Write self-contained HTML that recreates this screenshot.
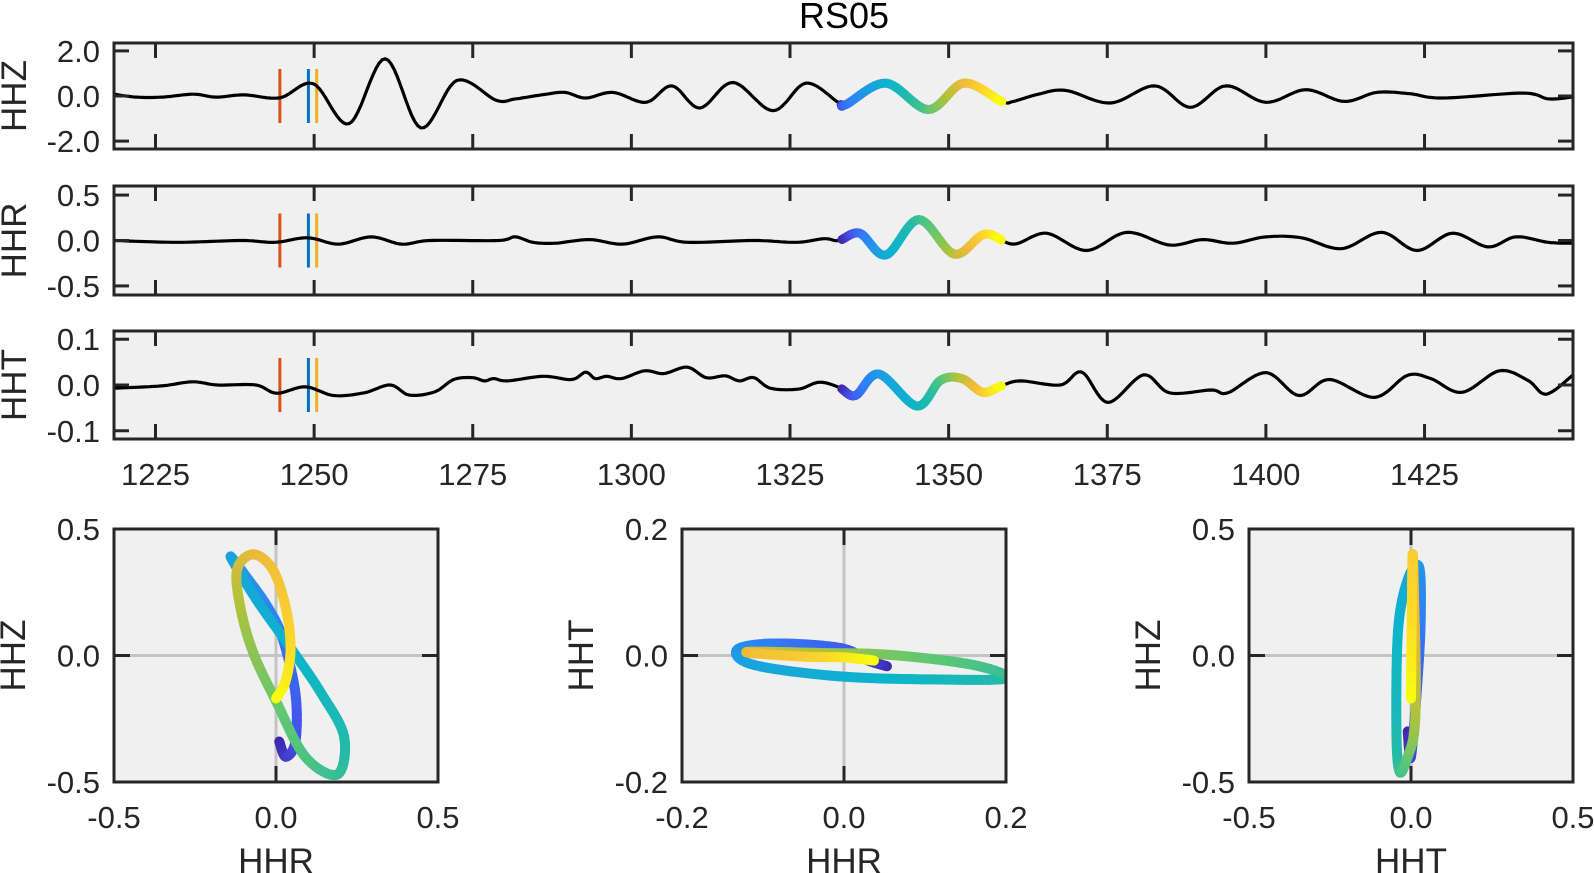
<!DOCTYPE html>
<html><head><meta charset="utf-8"><title>RS05</title>
<style>
html,body{margin:0;padding:0;background:#fff;}
svg{display:block;font-family:"Liberation Sans",Arial,sans-serif;}
</style></head>
<body>
<svg id="fig" width="1594" height="873" viewBox="0 0 1594 873" xmlns="http://www.w3.org/2000/svg">
<text x="844" y="28" font-size="36" text-anchor="middle" fill="#000">RS05</text>
</svg>
<script>
// ---------------- data ----------------
const hhzTime=[1218.46,1222,1226,1231,1234.5,1239,1244.6,1249.9,1255.5,1261.2,1266.8,1272.5,1278.7,1281.7,1286.1,1289.5,1292.8,1297.1,1302.3,1306.4,1310.8,1316.0,1322.3,1327.5,1332.6,1333.8,1340.1,1346.8,1352.4,1358.4,1360.2,1363.9,1368.4,1375.5,1382.5,1388.1,1393.7,1400.0,1406.3,1412.3,1417.5,1422.7,1427.9,1440.5,1444.6,1448.4];
const hhzAmp=[0.08,-0.05,-0.05,0.08,-0.05,0.05,-0.08,0.54,-1.23,1.65,-1.41,0.69,-0.19,-0.13,0.06,0.16,-0.09,0.16,-0.28,0.45,-0.53,0.6,-0.65,0.57,-0.28,-0.38,0.57,-0.6,0.57,-0.24,-0.24,0.06,0.25,-0.31,0.45,-0.5,0.45,-0.28,0.28,-0.24,0.16,0.1,-0.09,0.13,-0.13,-0.04];
const hhrTime=[1218.46,1228.5,1238.6,1243.8,1249.0,1253.8,1259.0,1263.8,1268.3,1279.0,1281.7,1284.5,1288.0,1293.4,1298.6,1304.1,1308.9,1319.3,1326.0,1330.4,1332.7,1336.0,1340.1,1345.3,1350.9,1355.7,1360.2,1365.4,1371.7,1378.1,1384.8,1390.0,1394.8,1400.0,1405.6,1411.9,1418.2,1423.8,1429.4,1435.0,1439.4,1444.5,1448.4];
const hhrAmp=[0.0,-0.02,0.0,-0.02,0.03,-0.04,0.04,-0.04,0.0,0.0,0.04,-0.02,-0.03,0.01,-0.04,0.04,-0.02,0.0,-0.02,0.02,0.0,0.08,-0.16,0.23,-0.15,0.07,-0.04,0.08,-0.11,0.09,-0.05,0.01,-0.03,0.04,0.03,-0.09,0.09,-0.11,0.08,-0.07,0.04,-0.02,-0.03];
const hhtTime=[1218.46,1225.9,1230.8,1234.8,1240.8,1244.1,1248.6,1253.1,1257.9,1262.0,1265.0,1269.0,1272.0,1275.0,1276.8,1278.3,1280.5,1286.1,1290.6,1292.8,1294.3,1296.1,1298.4,1302.1,1305.1,1308.8,1311.8,1314.8,1317.0,1319.3,1321.9,1326.3,1329.6,1332.7,1335.3,1339.0,1345.0,1348.7,1352.1,1355.4,1358.3,1361.3,1367.6,1371.0,1375.1,1380.7,1384.8,1391.4,1394.0,1400.0,1405.2,1410.0,1417.1,1422.3,1426.0,1430.9,1436.8,1441.3,1444.2,1448.4];
const hhtAmp=[-0.007,-0.002,0.007,0.0,0.0,-0.018,-0.004,-0.023,-0.017,0.0,-0.022,-0.015,0.012,0.016,0.009,0.014,0.009,0.019,0.012,0.028,0.014,0.019,0.014,0.031,0.025,0.039,0.016,0.02,0.009,0.016,-0.007,-0.009,0.006,-0.005,-0.023,0.024,-0.046,0.01,0.014,-0.016,-0.002,0.009,0.0,0.028,-0.038,0.022,-0.017,-0.011,-0.017,0.027,-0.023,0.012,-0.027,0.021,0.014,-0.016,0.031,0.01,-0.02,0.022];
const pickTimes=[1244.6,1249.1,1250.4];
const pickColors=["#d95319","#0072bd","#edb120"];
const windowStart=1333.0, windowEnd=1358.5;
const xTicks=[1225,1250,1275,1300,1325,1350,1375,1400,1425];
// particle motion (hodograms), in time order
const rzR=[0.01,0.03,0.06,0.06,0.02,-0.025,-0.085,-0.14,-0.06,0.045,0.14,0.21,0.19,0.09,0.0,-0.07,-0.11,-0.12,-0.07,-0.01,0.03,0.045,0.03,0.0];
const rzZ=[-0.34,-0.40,-0.34,-0.15,0.07,0.19,0.30,0.39,0.22,0.03,-0.15,-0.32,-0.47,-0.40,-0.18,0.01,0.19,0.34,0.40,0.34,0.19,0.03,-0.10,-0.17];
const rtR=[0.053,0.03,-0.005,-0.087,-0.132,-0.111,-0.005,0.119,0.2,0.16,0.057,-0.03,-0.107,-0.115,-0.046,0.0,0.037];
const rtT=[-0.017,-0.008,0.012,0.019,0.009,-0.015,-0.033,-0.038,-0.036,-0.015,0.001,0.004,0.006,0.004,-0.002,-0.003,-0.008];
const tzT=[-0.01,0.0,0.02,0.03,0.025,-0.01,-0.04,-0.045,-0.035,-0.01,0.01,0.015,0.01,0.005,0.002,0.0];
const tzZ=[-0.3,-0.4,-0.1,0.15,0.35,0.3,0.1,-0.3,-0.46,-0.4,-0.3,-0.1,0.2,0.4,0.1,-0.17];

// ---------------- helpers ----------------
const NS="http://www.w3.org/2000/svg";
const svg=document.getElementById('fig');
function mk(tag,attrs,parent){const e=document.createElementNS(NS,tag);for(const k in attrs)e.setAttribute(k,attrs[k]);(parent||svg).appendChild(e);return e;}
const parulaStops=[[0,"#3e26a8"],[0.1,"#4352ea"],[0.2,"#2f80f5"],[0.3,"#1ba0e0"],[0.4,"#0cb4cc"],[0.5,"#25bba5"],[0.6,"#5fc773"],[0.7,"#afc23c"],[0.8,"#edb93a"],[0.9,"#fcd22f"],[1,"#f9fb0e"]];
function hex(h){return [parseInt(h.substr(1,2),16),parseInt(h.substr(3,2),16),parseInt(h.substr(5,2),16)];}
function parula(f){f=Math.max(0,Math.min(1,f));for(let i=1;i<parulaStops.length;i++){if(f<=parulaStops[i][0]){const a=parulaStops[i-1],b=parulaStops[i];const u=(f-a[0])/(b[0]-a[0]);const ca=hex(a[1]),cb=hex(b[1]);return "rgb("+ca.map((c,j)=>Math.round(c+(cb[j]-c)*u)).join(",")+")";}}return parulaStops[parulaStops.length-1][1];}
function catmull(px,py,n){const out=[];const N=px.length;for(let i=0;i<N-1;i++){const x0=px[Math.max(0,i-1)],y0=py[Math.max(0,i-1)],x1=px[i],y1=py[i],x2=px[i+1],y2=py[i+1],x3=px[Math.min(N-1,i+2)],y3=py[Math.min(N-1,i+2)];for(let s=0;s<n;s++){const t=s/n,t2=t*t,t3=t2*t;out.push([0.5*((2*x1)+(-x0+x2)*t+(2*x0-5*x1+4*x2-x3)*t2+(-x0+3*x1-3*x2+x3)*t3),0.5*((2*y1)+(-y0+y2)*t+(2*y0-5*y1+4*y2-y3)*t2+(-y0+3*y1-3*y2+y3)*t3)]);}}out.push([px[N-1],py[N-1]]);return out;}

// ---------------- time-series panels ----------------
const L=114,R=1573,tMin=1218.46,tMax=1448.4;
function xs(t){return L+(t-tMin)/(tMax-tMin)*(R-L);}
const panels=[
 {name:"hhz",label:"HHZ",top:43,bot:149,lim:2.35,ticks:[2,0,-2],fmt:["2.0","0.0","-2.0"],time:hhzTime,amp:hhzAmp},
 {name:"hhr",label:"HHR",top:186,bot:295,lim:0.6,ticks:[0.5,0,-0.5],fmt:["0.5","0.0","-0.5"],time:hhrTime,amp:hhrAmp},
 {name:"hht",label:"HHT",top:331,bot:439,lim:0.118,ticks:[0.1,0,-0.1],fmt:["0.1","0.0","-0.1"],time:hhtTime,amp:hhtAmp}
];
panels.forEach((p,pi)=>{
  const g=mk('g',{});
  
  
  const ys=v=>(p.top+p.bot)/2-v/p.lim*(p.bot-p.top)/2;
  const bg=mk('rect',{x:L,y:p.top,width:R-L,height:p.bot-p.top,fill:"#f0f0f0"},g);
  
  
  const cp=mk('clipPath',{id:'clip'+pi},g);
  mk('rect',{x:L,y:p.top,width:R-L,height:p.bot-p.top},cp);
  pickTimes.forEach((t,i)=>{
    const ln=mk('line',{x1:xs(t),x2:xs(t),y1:ys(0)-27,y2:ys(0)+27,stroke:pickColors[i],'stroke-width':3},g);
    
    
  });
  const px=p.time.map(xs),py=p.amp.map(ys);
  const pts=catmull(px,py,12);
  const path=mk('path',{d:'M'+pts.map(q=>q[0].toFixed(1)+','+q[1].toFixed(1)).join('L'),fill:'none',stroke:'#000','stroke-width':3.2,'stroke-linejoin':'round','clip-path':'url(#clip'+pi+')'},g);
  
  
  const wg=mk('g',{},g);
  
  
  const x0=xs(windowStart),x1=xs(windowEnd);
  const win=pts.filter(q=>q[0]>=x0&&q[0]<=x1);
  for(let i=0;i<win.length-1;i++){
    mk('line',{x1:win[i][0],y1:win[i][1],x2:win[i+1][0],y2:win[i+1][1],stroke:parula(i/(win.length-2)),'stroke-width':9,'stroke-linecap':'round'},wg);
  }
  const fr=mk('rect',{x:L,y:p.top,width:R-L,height:p.bot-p.top,fill:'none',stroke:'#262626','stroke-width':3},g);
  
  
  xTicks.forEach(t=>{
    mk('line',{x1:xs(t),x2:xs(t),y1:p.top,y2:p.top+15,stroke:'#262626','stroke-width':3},g);
    mk('line',{x1:xs(t),x2:xs(t),y1:p.bot,y2:p.bot-15,stroke:'#262626','stroke-width':3},g);
  });
  p.ticks.forEach((v,i)=>{
    mk('line',{x1:L,x2:L+15,y1:ys(v),y2:ys(v),stroke:'#262626','stroke-width':3},g);
    mk('line',{x1:R,x2:R-15,y1:ys(v),y2:ys(v),stroke:'#262626','stroke-width':3},g);
    const tl=mk('text',{x:100,y:ys(v)+11,'font-size':31,'text-anchor':'end',fill:'#262626'},g);
    tl.textContent=p.fmt[i];
    
    
  });
  const yl=mk('text',{x:0,y:0,'font-size':35,'text-anchor':'middle',fill:'#262626',transform:'translate(26,'+((p.top+p.bot)/2)+') rotate(-90)'},g);
  yl.textContent=p.label;
  
  
});
xTicks.forEach(t=>{
  const tl=mk('text',{x:xs(t),y:485,'font-size':31,'text-anchor':'middle',fill:'#262626'});
  tl.textContent=String(t);
  
  
});

// ---------------- hodograms ----------------
const hodos=[
 {name:"hhr-hhz-motion",x:114,lim:0.5,xl:"HHR",yl:"HHZ",fmt:["-0.5","0.0","0.5"],hx:rzR,hy:rzZ},
 {name:"hhr-hht-motion",x:682,lim:0.2,xl:"HHR",yl:"HHT",fmt:["-0.2","0.0","0.2"],hx:rtR,hy:rtT},
 {name:"hht-hhz-motion",x:1249,lim:0.5,xl:"HHT",yl:"HHZ",fmt:["-0.5","0.0","0.5"],hx:tzT,hy:tzZ}
];
const HT=529,HB=782,HW=324;
hodos.forEach((h,hi)=>{
  const g=mk('g',{});
  
  
  const sx=v=>h.x+(v+h.lim)/(2*h.lim)*HW;
  const sy=v=>HB-(v+h.lim)/(2*h.lim)*(HB-HT);
  mk('rect',{x:h.x,y:HT,width:HW,height:HB-HT,fill:'#f0f0f0'},g);
  mk('line',{x1:sx(0),x2:sx(0),y1:HT,y2:HB,stroke:'#c4c4c4','stroke-width':3},g);
  mk('line',{x1:h.x,x2:h.x+HW,y1:sy(0),y2:sy(0),stroke:'#c4c4c4','stroke-width':3},g);
  const cp=mk('clipPath',{id:'hclip'+hi},g);
  mk('rect',{x:h.x,y:HT,width:HW,height:HB-HT},cp);
  const pts=catmull(h.hx.map(sx),h.hy.map(sy),10);
  const tg=mk('g',{'clip-path':'url(#hclip'+hi+')'},g);
  
  
  for(let i=0;i<pts.length-1;i++){
    mk('line',{x1:pts[i][0],y1:pts[i][1],x2:pts[i+1][0],y2:pts[i+1][1],stroke:parula(i/(pts.length-2)),'stroke-width':10,'stroke-linecap':'round'},tg);
  }
  mk('rect',{x:h.x,y:HT,width:HW,height:HB-HT,fill:'none',stroke:'#262626','stroke-width':3},g);
  mk('line',{x1:sx(0),x2:sx(0),y1:HT,y2:HT+16,stroke:'#262626','stroke-width':3},g);
  mk('line',{x1:sx(0),x2:sx(0),y1:HB,y2:HB-16,stroke:'#262626','stroke-width':3},g);
  mk('line',{x1:h.x,x2:h.x+16,y1:sy(0),y2:sy(0),stroke:'#262626','stroke-width':3},g);
  mk('line',{x1:h.x+HW,x2:h.x+HW-16,y1:sy(0),y2:sy(0),stroke:'#262626','stroke-width':3},g);
  [-h.lim,0,h.lim].forEach((v,i)=>{
    const xt=mk('text',{x:sx(v),y:828,'font-size':31,'text-anchor':'middle',fill:'#262626'},g);
    xt.textContent=h.fmt[i];
    
    
    const yt=mk('text',{x:h.x-14,y:sy(v)+11,'font-size':31,'text-anchor':'end',fill:'#262626'},g);
    yt.textContent=h.fmt[i];
    
    
  });
  const xl=mk('text',{x:h.x+HW/2,y:873,'font-size':35,'text-anchor':'middle',fill:'#262626'},g);
  xl.textContent=h.xl;
  
  
  const yl=mk('text',{x:0,y:0,'font-size':35,'text-anchor':'middle',fill:'#262626',transform:'translate('+(h.x-89)+','+((HT+HB)/2)+') rotate(-90)'},g);
  yl.textContent=h.yl;
  
  
});
</script>
</body></html>
